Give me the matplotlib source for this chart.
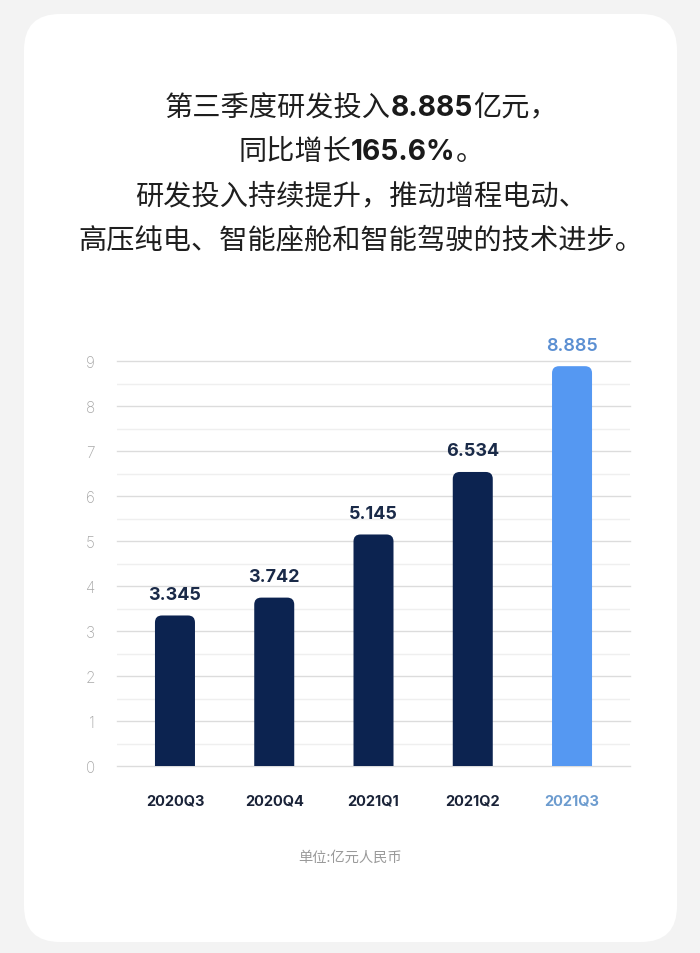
import matplotlib
matplotlib.use("Agg")
import matplotlib.pyplot as plt
from matplotlib.patches import FancyBboxPatch
from matplotlib.transforms import IdentityTransform
import numpy as np

plt.rcParams['font.family'] = ['Noto Sans CJK SC', 'DejaVu Sans']

categories = ["2020Q3", "2020Q4", "2021Q1", "2021Q2", "2021Q3"]
values = [3.345, 3.742, 5.145, 6.534, 8.885]
value_labels = ["3.345", "3.742", "5.145", "6.534", "8.885"]
yticks = [0, 1, 2, 3, 4, 5, 6, 7, 8, 9]
title_lines = [
    [("第三季度研发投入", False), ("8.885", True), ("亿元，", False)],
    [("同比增长", False), ("165.6%", True), ("。", False)],
    [("研发投入持续提升，推动增程电动、", False)],
    [("高压纯电、智能座舱和智能驾驶的技术进步。", False)],
]
unit_text = "单位:亿元人民币"

DARK = "#0c2350"
BLUE = "#5598f2"
BLUE_TXT = "#5b8fd2"

W, H = 700, 954
fig = plt.figure(figsize=(W / 100, H / 100), dpi=100)
fig.patch.set_facecolor("#f3f3f3")

card = FancyBboxPatch((24, 11), 653, 928,
                      boxstyle="round,pad=0,rounding_size=36",
                      transform=IdentityTransform(), facecolor="white",
                      edgecolor="none", zorder=-10)
fig.patches.append(card)

ax = fig.add_axes([117 / W, (H - 767) / H, (630 - 117) / W, (767 - 362) / H])
ax.set_zorder(5)
ax.patch.set_visible(False)
x = np.arange(len(categories))
ax.set_xlim(-0.584, 4.584)
ax.set_ylim(0, 9)

# grid lines
for y in yticks:
    ax.axhline(y, color="#dcdcdc", lw=1.0, zorder=1, clip_on=False)
for y in np.arange(0.5, 9, 1.0):
    ax.axhline(y, color="#efefef", lw=1.0, zorder=1)

bw = 0.403
colors = [DARK, DARK, DARK, DARK, BLUE]
bars = ax.bar(x, values, width=bw, color=colors, alpha=0)
px_x = 99.25
px_y = 45.0
aspect = (1 / px_y) / (1 / px_x)
r = 7 / px_x
ext = 0.4
for b, c in zip(bars, colors):
    bx, by = b.get_x(), b.get_y()
    bwid, bh = b.get_width(), b.get_height()
    p = FancyBboxPatch((bx, by - ext), bwid, bh + ext,
                       boxstyle=f"round,pad=0,rounding_size={r}",
                       mutation_aspect=aspect, facecolor=c, edgecolor="none",
                       zorder=3)
    ax.add_patch(p)

for xi, v, lab, c in zip(x, values, value_labels, colors):
    col = BLUE_TXT if c == BLUE else "#1a2a48"
    wt = "semibold" if c == BLUE else "bold"
    ax.annotate(lab, (xi, v), xytext=(0, 9), textcoords="offset points",
                ha="center", va="bottom", fontsize=13, fontweight=wt,
                color=col, family=["Inter", "DejaVu Sans"], zorder=5)

for s in ax.spines.values():
    s.set_visible(False)
ax.set_yticks(yticks)
ax.set_yticklabels([str(t) for t in yticks], family=["Inter", "DejaVu Sans"],
                   fontweight="light")
ax.tick_params(axis="y", length=0, pad=16, labelsize=11, labelcolor="#a8a8a8")
ax.set_xticks(x)
ax.set_xticklabels(categories, family=["Inter", "DejaVu Sans"], fontweight="bold")
ax.tick_params(axis="x", length=0, pad=20, labelsize=10.5, labelcolor="#1a2338")
ax.get_xticklabels()[-1].set_color("#6d9ccf")

# title lines with mixed weights
renderer = fig.canvas.get_renderer()
line_y = [108, 152, 196, 240]
for segs, yc in zip(title_lines, line_y):
    texts = []
    for s, bold in segs:
        if bold:
            t = fig.text(0, 1 - yc / H, s, fontsize=20.3, fontweight="bold",
                         family=["Inter", "Noto Sans CJK SC"], color="#1a1a1a",
                         va="center", ha="left", transform=fig.transFigure)
        else:
            t = fig.text(0, 1 - yc / H, s, fontsize=20.3,
                         family=["Noto Sans CJK SC", "DejaVu Sans"],
                         color="#1e1e1e", va="center", ha="left",
                         transform=fig.transFigure)
        texts.append(t)
    widths = [t.get_window_extent(renderer).width for t in texts]
    total = sum(widths)
    cur = 361 - total / 2
    for t, w in zip(texts, widths):
        t.set_x(cur / W)
        cur += w

fig.text(0.5, 1 - 858 / H, unit_text, ha="center", va="center", fontsize=10.3,
         color="#9a9a9a", family=["Noto Sans CJK SC", "DejaVu Sans"])

fig.savefig("out.png", dpi=100, facecolor=fig.get_facecolor())
